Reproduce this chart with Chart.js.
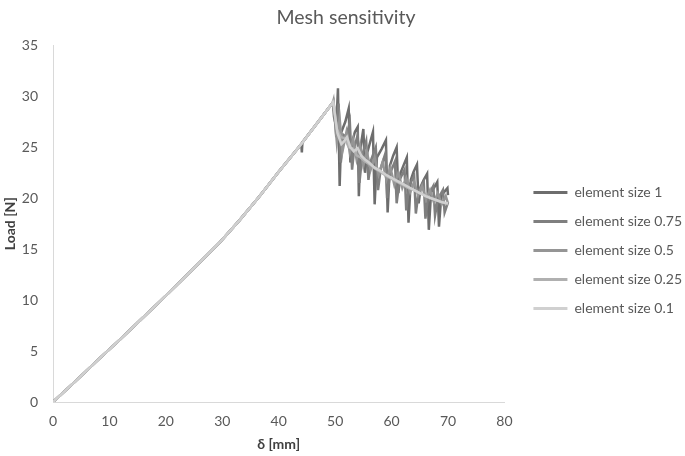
<!DOCTYPE html>
<html>
<head>
<meta charset="utf-8">
<script src="https://cdn.jsdelivr.net/npm/chart.js@4"></script>
<style>
    body { margin: 0; background: #fff; }
    #wrap { width: 685px; height: 456px; }
</style>
</head>
<body>
<div id="wrap"><canvas id="meshChart" width="685" height="456"></canvas></div>
<script>
// shared loading branch (all mesh sizes overlap up to the peak)
const riseX = [0, 4, 8.3, 12, 15.4, 19, 22.5, 26, 29.6, 33, 36.6, 40, 43.7, 47, 49.6];
const riseY = [0, 2.05, 4.3, 6.2, 8.0, 9.9, 11.8, 13.7, 15.7, 17.8, 20.2, 22.6, 25.1, 27.5, 29.4];

// small dip on the coarse mesh near 44 mm
const blipX = [44.0, 44.1, 44.2];
const blipY = [25.3, 24.5, 25.5];

const labels = ["element size 1", "element size 0.75", "element size 0.5", "element size 0.25", "element size 0.1"];
const colors = ["#6d6d6d", "#7f7f7f", "#959595", "#b0b0b0", "#d0d0d0"];

// post-peak (softening) branch per mesh size
const size1X = [49.8, 50.2, 50.5, 50.8, 51.1, 51.8, 52.4, 52.7, 53.0, 53.5, 54.0, 54.2, 54.5, 55.0, 55.3, 55.7, 56.7, 57.0, 57.4, 58.2, 59.0, 59.3, 59.7, 60.3, 60.9, 61.2, 61.6, 62.1, 62.7, 63.0, 63.4, 63.9, 64.5, 64.8, 65.2, 65.7, 66.3, 66.6, 67.0, 67.5, 68.1, 68.4, 68.8, 69.3, 69.9, 70.0];
const size1Y = [28.0, 27.0, 30.8, 21.2, 26.5, 27.5, 28.8, 23.5, 25.5, 26.5, 27.0, 20.2, 25.0, 26.8, 22.5, 24.5, 26.5, 19.4, 24.0, 24.8, 25.7, 18.6, 23.2, 24.2, 25.0, 20.5, 22.5, 23.2, 24.0, 17.6, 21.8, 22.6, 23.3, 19.5, 21.2, 21.8, 22.4, 16.9, 20.6, 21.0, 21.6, 17.2, 20.2, 20.6, 21.0, 20.3];

const size075X = [49.7, 50.2, 50.6, 51.0, 51.5, 52.0, 52.6, 53.0, 53.4, 54.0, 54.3, 54.8, 55.5, 55.9, 56.4, 57.2, 57.6, 58.1, 58.9, 59.2, 59.7, 60.6, 60.9, 61.4, 62.3, 62.6, 63.1, 64.0, 64.3, 64.8, 65.7, 66.0, 66.5, 67.4, 67.7, 68.2, 69.1, 69.4, 70.0];
const size075Y = [29.5, 26.0, 29.3, 23.5, 26.2, 26.0, 27.5, 22.8, 25.0, 26.2, 21.5, 24.2, 25.6, 21.8, 23.8, 25.0, 20.8, 23.0, 24.4, 20.0, 22.4, 23.6, 19.5, 21.8, 22.8, 18.8, 21.2, 22.2, 18.5, 20.7, 21.6, 18.0, 20.3, 21.2, 18.3, 19.9, 20.8, 18.6, 19.6];

const size05X = [49.7, 50.3, 50.8, 51.3, 52.0, 52.6, 53.2, 53.8, 54.4, 55.0, 55.6, 56.3, 57.0, 57.7, 58.4, 59.1, 59.8, 60.5, 61.2, 61.9, 62.6, 63.3, 64.0, 64.7, 65.4, 66.1, 66.8, 67.5, 68.2, 68.9, 69.6, 70.0];
const size05Y = [29.6, 25.5, 27.8, 24.6, 26.5, 24.5, 25.8, 23.8, 25.2, 23.2, 24.6, 22.8, 24.0, 22.3, 23.5, 21.8, 23.0, 21.3, 22.5, 21.0, 22.0, 20.6, 21.6, 20.3, 21.2, 19.9, 20.8, 19.6, 20.5, 19.4, 20.2, 19.5];

const size025X = [49.7, 50.3, 51.0, 51.7, 52.4, 53.1, 53.8, 54.5, 55.3, 56.2, 57.1, 58.0, 59.0, 60.0, 61.0, 62.0, 63.0, 64.0, 65.0, 66.0, 67.0, 68.0, 69.0, 70.0];
const size025Y = [29.5, 26.8, 26.0, 25.9, 25.0, 24.9, 24.2, 24.0, 23.6, 23.3, 22.9, 22.6, 22.2, 21.9, 21.6, 21.3, 21.0, 20.8, 20.5, 20.3, 20.0, 19.8, 19.6, 19.4];

const size01X = [49.6, 50.4, 51.1, 51.6, 52.1, 52.7, 53.3, 54.0, 54.6, 55.3, 56.0, 57.0, 58.0, 59.0, 60.0, 61.0, 62.0, 63.0, 64.0, 65.0, 66.0, 67.0, 68.0, 69.0, 70.0];
const size01Y = [29.6, 26.4, 25.3, 25.6, 26.0, 25.0, 24.6, 24.9, 24.2, 23.8, 23.5, 23.0, 22.7, 22.3, 22.0, 21.7, 21.4, 21.1, 20.8, 20.5, 20.2, 20.0, 19.8, 19.6, 19.5];

const xTicks = [0, 10, 20, 30, 40, 50, 60, 70, 80];
const yTicks = [0, 5, 10, 15, 20, 25, 30, 35];

function toPoints(xs, ys) {
    const pts = [];
    for (let i = 0; i < xs.length; i++) {
        pts.push({ x: xs[i], y: ys[i] });
    }
    return pts;
}

function series(extraX, extraY) {
    return toPoints(riseX, riseY)
        .concat(toPoints(extraX, extraY))
        .sort((a, b) => a.x - b.x);
}

const allData = [
    series(blipX.concat(size1X), blipY.concat(size1Y)),
    series(size075X, size075Y),
    series(size05X, size05Y),
    series(size025X, size025Y),
    series(size01X, size01Y),
];

const textColor = "#595959";
const axisColor = "#d9d9d9";
const fontFamily = "Lato";

const ctx = document.getElementById("meshChart").getContext("2d");
const chart = new Chart(ctx, {
    type: "line",
    data: {
        datasets: allData.map((d, i) => ({
            label: labels[i],
            data: d,
            borderColor: colors[i],
            backgroundColor: colors[i],
            borderWidth: 2.5,
            pointRadius: 0,
            tension: 0,
            fill: false,
            // finer meshes drawn on top
            order: labels.length - i,
        })),
    },
    options: {
        responsive: false,
        animation: false,
        parsing: false,
        layout: {
            padding: { top: 2, left: 0, right: -7, bottom: 3 },
        },
        scales: {
            x: {
                type: "linear",
                min: 0,
                max: 80,
                afterBuildTicks: (axis) => {
                    axis.ticks = xTicks.map((v) => ({ value: v }));
                },
                afterFit: (axis) => {
                    axis.height = 51;
                },
                grid: { display: false, drawTicks: false },
                border: { color: axisColor, width: 1 },
                ticks: {
                    color: textColor,
                    font: { family: fontFamily, size: 14 },
                    padding: 11,
                },
                title: {
                    display: true,
                    text: "δ [mm]",
                    color: "#404040",
                    font: { family: fontFamily, size: 14, weight: "bold" },
                    padding: { top: 4, bottom: 0 },
                },
            },
            y: {
                type: "linear",
                min: 0,
                max: 35,
                afterBuildTicks: (axis) => {
                    axis.ticks = yTicks.map((v) => ({ value: v }));
                },
                afterFit: (axis) => {
                    axis.width = 53;
                },
                grid: { display: false, drawTicks: false },
                border: { color: axisColor, width: 1 },
                ticks: {
                    color: textColor,
                    font: { family: fontFamily, size: 14 },
                    padding: 15,
                },
                title: {
                    display: true,
                    text: "Load [N]",
                    color: "#404040",
                    font: { family: fontFamily, size: 14, weight: "bold" },
                    padding: { top: 2, bottom: 3 },
                },
            },
            // empty spacer between plot area and legend
            gap: {
                type: "linear",
                position: "right",
                display: true,
                grid: { display: false, drawTicks: false },
                border: { display: false },
                ticks: { display: false },
                afterFit: (axis) => {
                    axis.width = 14;
                },
            },
        },
        plugins: {
            title: {
                display: true,
                text: "Mesh sensitivity",
                color: textColor,
                font: { family: fontFamily, size: 19.5, weight: "normal" },
                padding: { top: 4, bottom: 16 },
            },
            legend: {
                position: "right",
                maxWidth: 200,
                title: {
                    display: true,
                    text: " ",
                    font: { size: 1 },
                    padding: { top: 45, bottom: 0 },
                },
                labels: {
                    boxWidth: 34,
                    boxHeight: 3,
                    padding: 15,
                    color: textColor,
                    font: { family: fontFamily, size: 14 },
                    sort: (a, b) => a.datasetIndex - b.datasetIndex,
                    generateLabels: (c) => {
                        const items = Chart.defaults.plugins.legend.labels.generateLabels(c);
                        items.forEach((it) => {
                            it.lineWidth = 0;
                        });
                        return items;
                    },
                },
            },
            tooltip: { enabled: false },
        },
    },
});
</script>
</body>
</html>
